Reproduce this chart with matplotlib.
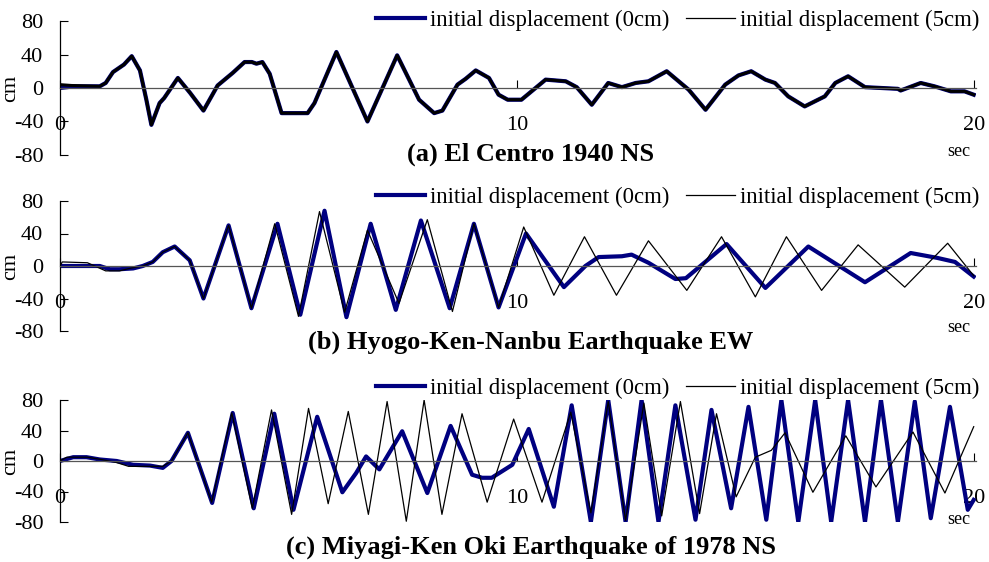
import matplotlib
matplotlib.use("Agg")
import matplotlib.pyplot as plt

plt.rcParams["font.family"] = ["Liberation Serif", "DejaVu Serif"]
plt.rcParams["axes.unicode_minus"] = False

BLUE = "#000080"
LABEL_0 = "initial displacement (0cm)"
LABEL_5 = "initial displacement (5cm)"
TITLES = [
    "(a) El Centro 1940 NS",
    "(b) Hyogo-Ken-Nanbu Earthquake EW",
    "(c) Miyagi-Ken Oki Earthquake of 1978 NS",
]
Y_TICKS = [-80, -40, 0, 40, 80]
X_TICKS = [0, 10, 20]

# (a) El Centro -- both responses nearly coincide
a0_t = [0, 0.3, 0.87, 1.0, 1.16, 1.4, 1.57, 1.75, 1.89, 2.0, 2.18, 2.28, 2.58, 2.85, 3.14,
        3.45, 3.78, 4.04, 4.2, 4.3, 4.43, 4.59, 4.85, 5.42, 5.57, 6.05, 6.73, 7.38, 7.86,
        8.19, 8.37, 8.7, 8.88, 9.1, 9.39, 9.6, 9.8, 10.1, 10.63, 11.07, 11.31, 11.64, 12.0,
        12.3, 12.6, 12.88, 13.28, 13.76, 14.13, 14.56, 14.85, 15.13, 15.44, 15.65, 15.94,
        16.3, 16.74, 16.97, 17.25, 17.62, 18.34, 18.4, 18.5, 18.84, 19.14, 19.5, 19.8, 20.0]
a0_v = [0, 2, 2, 6, 19, 28, 38, 21, -14, -44, -18, -12, 12, -6, -27,
        3, 18, 31, 31, 29, 31, 17, -30, -30, -18, 43, -40, 39, -14,
        -30, -27, 4, 11, 21, 12, -8, -14, -14, 10, 8, 1, -20, 6,
        1, 6, 8, 20, -2, -26, 4, 15, 20, 10, 6, -10,
        -22, -10, 6, 14, 1, -1, -3, -1, 6, 2, -4, -4, -8]
a5_t = [0, 0.25] + a0_t[2:]
a5_v = [4, 3] + a0_v[2:]

# (b) Hyogo-Ken-Nanbu
b0_t = [0, 0.87, 1.09, 1.3, 1.6, 1.81, 2.03, 2.25, 2.51, 2.84, 3.14, 3.69, 4.19, 4.76, 5.26,
        5.79, 6.27, 6.8, 7.35, 7.9, 8.53, 9.06, 9.6, 10.2, 11.03, 11.5, 11.79, 12.3, 12.51,
        12.88, 13.47, 13.7, 14.59, 15.44, 16.38, 17.62, 18.62, 19.2, 19.59, 20.0]
b0_v = [0, 0, -4, -4, -3, 0, 5, 17, 24, 7, -40, 50, -52, 52, -60,
        68, -63, 52, -54, 56, -52, 52, -51, 40, -26, 0, 11, 12, 14,
        4, -16, -15, 27, -27, 24, -20, 16, 10, 5, -13]
b5_t = [0, 0.05, 0.6, 1.0, 1.3, 1.6, 1.81, 2.03, 2.25, 2.51, 2.84, 3.14, 3.69, 4.19, 4.7,
        5.22, 5.68, 6.23, 6.73, 7.42, 8.04, 8.59, 9.06, 9.6, 10.15, 10.81, 11.48, 12.18,
        12.88, 13.72, 14.48, 15.22, 15.9, 16.67, 17.47, 18.49, 19.43, 20.0]
b5_v = [0, 5, 4, -6, -6, -2, 0, 5, 17, 24, 7, -40, 50, -52, 52,
        -62, 67, -57, 44, -46, 57, -56, 52, -51, 48, -36, 36, -36,
        31, -30, 36, -38, 36, -30, 26, -26, 28, -12]

# (c) Miyagi-Ken Oki
c0_t = [0, 0.29, 0.58, 0.87, 1.24, 1.6, 1.97, 2.25, 2.44, 2.8, 3.33, 3.78, 4.24, 4.69, 5.11,
        5.63, 6.18, 6.48, 6.7, 6.99, 7.49, 8.04, 8.55, 9.02, 9.24, 9.45, 9.9, 10.26, 10.81,
        11.2, 11.62, 12.0, 12.38, 12.73, 13.1, 13.47, 13.91, 14.26, 14.69, 15.07, 15.46,
        15.79, 16.16, 16.53, 16.88, 17.25, 17.62, 17.97, 18.34, 18.71, 19.06, 19.48, 19.87, 20.0]
c0_v = [0, 5, 5, 2, 0, -5, -6, -9, 0, 37, -55, 63, -62, 62, -64,
        58, -41, -16, 6, -11, 39, -42, 46, -18, -22, -22, -5, 42, -60,
        73, -80, 80, -80, 80, -80, 73, -77, 67, -62, 71, -77,
        80, -80, 80, -80, 80, -80, 80, -80, 78, -75, 71, -64, -51]
c5_t = [0, 0.15, 0.6, 0.9, 1.24, 1.5, 1.97, 2.25, 2.44, 2.8, 3.32, 3.76, 4.21, 4.63, 5.07,
        5.44, 5.87, 6.31, 6.75, 7.16, 7.58, 7.97, 8.36, 8.8, 9.35, 9.93, 10.55, 11.18, 11.62,
        12.0, 12.38, 12.78, 13.17, 13.58, 14.0, 14.37, 14.8, 15.22, 15.57, 15.87, 16.48,
        17.2, 17.86, 18.67, 19.37, 20.0]
c5_v = [0, 5, 5, 2, -2, -7, -7, -7, 0, 37, -54, 63, -62, 67, -70,
        69, -56, 65, -70, 78, -79, 80, -70, 62, -54, 55, -54, 64, -68,
        78, -78, 76, -72, 78, -69, 62, -47, 5, 14, 37, -41,
        33, -34, 38, -42, 45]

PANELS = [
    (a0_t, a0_v, a5_t, a5_v),
    (b0_t, b0_v, b5_t, b5_v),
    (c0_t, c0_v, c5_t, c5_v),
]

# layout in pixels of the 989x562 canvas
W, H = 989, 562
LEFT, RIGHT = 60, 976
BOXES = [(21, 155), (201, 331), (400, 522)]
LEGEND_Y = [20, 197, 388]
TITLE_Y = [154, 342, 547]
SEC_Y = [151, 328, 520]
BLACK_LW = [2.2, 0.9, 0.9]

fig = plt.figure(figsize=(W / 100, H / 100), dpi=100)

for i, (t0, v0, t5, v5) in enumerate(PANELS):
    top, bot = BOXES[i]
    ax = fig.add_axes([LEFT / W, 1 - bot / H, (RIGHT - LEFT) / W, (bot - top) / H])
    ax.plot(t0, v0, color=BLUE, linewidth=3.0, label=LABEL_0, solid_joinstyle="round")
    ax.plot(t5, v5, color="black", linewidth=BLACK_LW[i], label=LABEL_5, solid_joinstyle="round")

    ax.set_xlim(0, 20.05)
    ax.set_ylim(-80, 80)
    ax.spines[["top", "right"]].set_visible(False)
    ax.spines["bottom"].set_position(("data", 0))
    ax.spines["bottom"].set_color("#555555")
    ax.spines["bottom"].set_linewidth(0.9)
    ax.spines["left"].set_linewidth(0.9)
    ax.set_yticks(Y_TICKS)
    ax.set_xticks(X_TICKS)
    ax.tick_params(axis="y", direction="in", length=6, pad=12, labelsize=16)
    ax.tick_params(axis="x", direction="in", length=6, pad=20, labelsize=16)
    ax.set_ylabel("cm", fontsize=16)
    ax.yaxis.set_label_coords((20 - LEFT) / (RIGHT - LEFT), 0.5)
    ax.patch.set_alpha(0)

    leg_y = 1 + (top - LEGEND_Y[i]) / (bot - top)
    leg = ax.legend(loc="center right", bbox_to_anchor=(1.004, leg_y), ncol=2, frameon=False,
                    fontsize=16.4, handlelength=2.15, handletextpad=0.23, columnspacing=0.72,
                    borderaxespad=0, borderpad=0)
    leg.get_lines()[1].set_linewidth(0.9)

    fig.text(531 / W, 1 - TITLE_Y[i] / H, TITLES[i], ha="center", va="center",
             fontsize=19, fontweight="bold")
    fig.text(970 / W, 1 - SEC_Y[i] / H, "sec", ha="right", va="center", fontsize=13)

fig.savefig("out.png", dpi=100)
